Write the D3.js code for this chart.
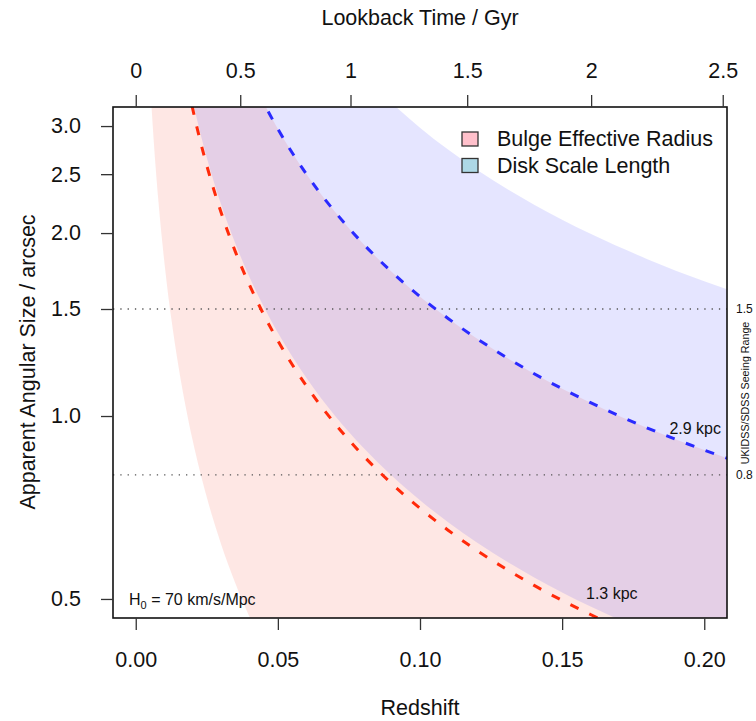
<!DOCTYPE html>
<html><head><meta charset="utf-8">
<script src="https://cdnjs.cloudflare.com/ajax/libs/d3/7.8.5/d3.min.js"></script>
<style>
body{margin:0;background:#fff}
svg{display:block}
text{font-family:"Liberation Sans",Arial,Helvetica,sans-serif;fill:#111}
</style>
</head><body>
<svg id="c" width="756" height="721"></svg>
<script>
// Redshift grid shared by all curves
const redshift = [0.004,0.005,0.006,0.007,0.008,0.009,0.010,0.0125,0.015,0.0175,0.020,0.0225,0.025,0.030,0.035,0.040,0.045,0.050,0.060,0.070,0.080,0.090,0.100,0.110,0.120,0.140,0.160,0.180,0.200,0.210];
// Apparent angular size (arcsec) of bulge range lower edge (~0.37 kpc)
const bulgeLow = [4.477,3.586,2.992,2.567,2.249,2.002,1.804,1.448,1.210,1.040,0.9129,0.8140,0.7348,0.6160,0.5312,0.4676,0.4181,0.3785,0.3192,0.2768,0.2450,0.2204,0.2006,0.1845,0.1710,0.1499,0.1342,0.1219,0.1121,0.1080];
// Bulge range upper edge (2.9 kpc)
const bulgeHigh = [35.09,28.11,23.45,20.12,17.63,15.69,14.14,11.35,9.483,8.153,7.156,6.380,5.759,4.828,4.163,3.665,3.277,2.967,2.502,2.170,1.921,1.727,1.572,1.446,1.341,1.175,1.052,0.9555,0.8789,0.8461];
// Disk range lower edge (~1.34 kpc)
const diskLow = [16.21,12.99,10.84,9.298,8.146,7.250,6.533,5.242,4.382,3.767,3.306,2.948,2.661,2.231,1.924,1.693,1.514,1.371,1.156,1.002,0.8875,0.7981,0.7266,0.6681,0.6194,0.5431,0.4859,0.4415,0.4061,0.3910];
// Disk range upper edge (~5.5 kpc)
const diskHigh = [66.55,53.30,44.47,38.17,33.44,29.76,26.81,21.52,17.99,15.46,13.57,12.10,10.92,9.157,7.896,6.950,6.215,5.627,4.745,4.115,3.643,3.276,2.982,2.742,2.542,2.229,1.994,1.812,1.667,1.605];
// Reference curves: 1.3 kpc (red) and 2.9 kpc (blue)
const ref13 = [15.73,12.60,10.51,9.021,7.903,7.033,6.338,5.086,4.251,3.655,3.208,2.860,2.582,2.164,1.866,1.643,1.469,1.330,1.121,0.9726,0.8610,0.7742,0.7049,0.6482,0.6010,0.5268,0.4714,0.4283,0.3940,0.3793];
const ref29 = [35.09,28.11,23.45,20.12,17.63,15.69,14.14,11.35,9.483,8.153,7.156,6.380,5.759,4.828,4.163,3.665,3.277,2.967,2.502,2.170,1.921,1.727,1.572,1.446,1.341,1.175,1.052,0.9555,0.8789,0.8461];

const xTicks = [0,0.05,0.10,0.15,0.20];
const xTickLabels = ["0.00","0.05","0.10","0.15","0.20"];
const yTicks = [0.5,1.0,1.5,2.0,2.5,3.0];
const yTickLabels = ["0.5","1.0","1.5","2.0","2.5","3.0"];
const topTickLabels = ["0","0.5","1","1.5","2","2.5"];
const topTickRedshift = [0,0.03676,0.07555,0.1166,0.1602,0.2065];
const seeingLimits = [1.5,0.8];
const seeingLabels = ["1.5","0.8"];
const legendLabels = ["Bulge Effective Radius","Disk Scale Length"];
const legendColors = ["#FFC0CB","#ADD8E6"];

const FS = 21.5;
const svg = d3.select("#c");
const M = {left:113,right:727,top:107,bottom:618};
const x = d3.scaleLinear().domain([-0.008,0.208]).range([M.left,M.right]);
const y = d3.scaleLog().domain([0.4652,3.2246]).range([M.bottom,M.top]);

svg.append("defs").append("clipPath").attr("id","clip")
  .append("rect").attr("x",M.left).attr("y",M.top)
  .attr("width",M.right-M.left).attr("height",M.bottom-M.top);
const g = svg.append("g").attr("clip-path","url(#clip)");

const rows = redshift.map((z,i)=>({z,bl:bulgeLow[i],bh:bulgeHigh[i],dl:diskLow[i],dh:diskHigh[i],r:ref13[i],b:ref29[i]}));
const area = (lo,hi)=>d3.area().x(d=>x(d.z)).y0(d=>y(d[lo])).y1(d=>y(d[hi])).curve(d3.curveMonotoneX);
g.append("path").datum(rows).attr("d",area("bl","bh")).attr("fill","rgba(250,128,114,0.19)");
g.append("path").datum(rows).attr("d",area("dl","dh")).attr("fill","rgba(0,0,255,0.1)");

// seeing range dotted lines
g.selectAll("line.seeing").data(seeingLimits).join("line")
  .attr("x1",M.left).attr("x2",M.right).attr("y1",d=>y(d)).attr("y2",d=>y(d))
  .attr("stroke","#555").attr("stroke-width",1.3).attr("stroke-dasharray","1.3,6");

const line = k=>d3.line().x(d=>x(d.z)).y(d=>y(d[k])).curve(d3.curveMonotoneX);
g.append("path").datum(rows).attr("d",line("r")).attr("fill","none")
  .attr("stroke","#ff2a0a").attr("stroke-width",3).attr("stroke-dasharray","9,12");
g.append("path").datum(rows).attr("d",line("b")).attr("fill","none")
  .attr("stroke","#2a2aff").attr("stroke-width",3).attr("stroke-dasharray","9,12");

// box
svg.append("rect").attr("x",M.left).attr("y",M.top).attr("width",M.right-M.left).attr("height",M.bottom-M.top)
  .attr("fill","none").attr("stroke","#111").attr("stroke-width",1.6);

function styleAxis(sel){
  sel.select(".domain").remove();
  sel.selectAll(".tick line").attr("stroke","#333").attr("stroke-width",1.3);
  sel.selectAll(".tick text").attr("font-size",FS).attr("fill","#111").attr("font-family",null);
}
svg.append("g").attr("transform",`translate(0,${M.bottom})`)
  .call(d3.axisBottom(x).tickValues(xTicks).tickFormat((d,i)=>xTickLabels[i]).tickSize(12).tickPadding(22))
  .call(styleAxis);
svg.append("g").attr("transform",`translate(0,${M.top})`)
  .call(d3.axisTop(x).tickValues(topTickRedshift).tickFormat((d,i)=>topTickLabels[i]).tickSize(12).tickPadding(17))
  .call(styleAxis);
svg.append("g").attr("transform",`translate(${M.left},0)`)
  .call(d3.axisLeft(y).tickValues(yTicks).tickFormat((d,i)=>yTickLabels[i]).tickSize(12).tickPadding(20))
  .call(styleAxis);

// axis titles
svg.append("text").attr("x",420).attr("y",25).attr("text-anchor","middle").attr("font-size",FS).text("Lookback Time / Gyr");
svg.append("text").attr("x",420).attr("y",715).attr("text-anchor","middle").attr("font-size",FS).text("Redshift");
svg.append("text").attr("transform","translate(35,362) rotate(-90)").attr("text-anchor","middle").attr("font-size",FS).text("Apparent Angular Size / arcsec");

// seeing labels on right
svg.selectAll("text.seeing").data(seeingLimits).join("text")
  .attr("x",736).attr("y",d=>y(d)+4.5).attr("font-size",12).text((d,i)=>seeingLabels[i]);
svg.append("text").attr("transform","translate(749,393) rotate(-90)").attr("text-anchor","middle")
  .attr("font-size",10.7).text("UKIDSS/SDSS Seeing Range");

// curve annotations
svg.append("text").attr("x",721).attr("y",434).attr("text-anchor","end").attr("font-size",16).text("2.9 kpc");
svg.append("text").attr("x",586).attr("y",599).attr("font-size",16).text("1.3 kpc");
const h0 = svg.append("text").attr("x",129).attr("y",605).attr("font-size",16);
h0.append("tspan").text("H");
h0.append("tspan").attr("font-size",11).attr("dy",4).text("0");
h0.append("tspan").attr("dy",-4).text(" = 70 km/s/Mpc");

// legend
const lg = svg.append("g");
legendLabels.forEach((t,i)=>{
  lg.append("rect").attr("x",462).attr("y",132+i*26.5).attr("width",16).attr("height",14)
    .attr("fill",legendColors[i]).attr("stroke","#333").attr("stroke-width",1.3);
  lg.append("text").attr("x",497).attr("y",146+i*26.5).attr("font-size",FS).text(t);
});
</script>
</body></html>
